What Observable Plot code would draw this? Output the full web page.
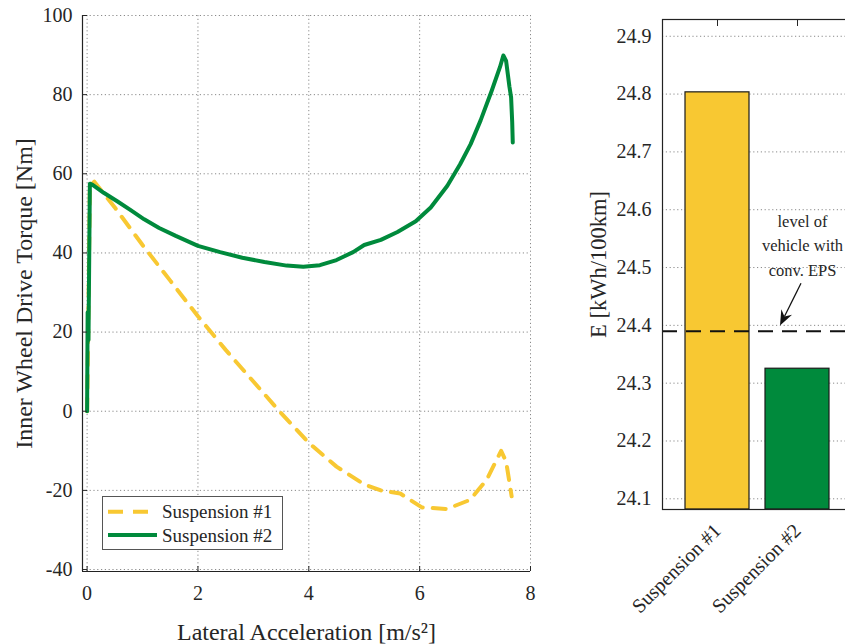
<!DOCTYPE html>
<html><head><meta charset="utf-8">
<script src="https://cdn.jsdelivr.net/npm/d3@7"></script>
<script src="https://cdn.jsdelivr.net/npm/@observablehq/plot@0.6"></script>
<style>
body{margin:0;background:#fff;}
#wrap{position:relative;width:845px;height:644px;overflow:hidden;font-family:"Liberation Serif",serif;}
#left{position:absolute;left:0;top:0;}
#right{position:absolute;left:560px;top:0;width:300px;}
#legend{position:absolute;left:102px;top:496px;}
svg{max-width:none !important;}
svg text{fill:#262626;font-family:"Liberation Serif",serif !important;}
#left g[aria-label="x-axis label"] text, #left g[aria-label="y-axis label"] text{font-size:24px;}
#right g[aria-label="y-axis label"] text{font-size:22.5px;}
</style></head>
<body><div id="wrap"><div id="left"></div><div id="right"></div><div id="legend"></div></div>
<script>
// ---- data ----
const seriesNames = ["Suspension #1", "Suspension #2"];
const seriesColors = ["#F8C832", "#008A3C"];

const accel1  = [0, 0.02, 0.05, 0.13, 0.5, 1.0, 1.5, 2.0, 2.5, 3.0, 3.47, 4.0, 4.5, 5.0, 5.3, 5.65, 6.04, 6.49, 6.91, 7.21, 7.47, 7.56, 7.66];
const torque1 = [0, 20, 57, 58, 51.5, 42, 33, 24, 15.5, 7.5, 0, -8, -14, -18.5, -20, -20.8, -24.3, -24.7, -22.4, -17.3, -10, -12.7, -21.5];

const accel2  = [0, 0.01, 0.025, 0.05, 0.1, 0.3, 0.55, 0.8, 1.03, 1.3, 1.6, 2.0, 2.4, 2.8, 3.2, 3.6, 3.9, 4.2, 4.5, 4.8, 5.0, 5.3, 5.6, 5.93, 6.2, 6.5, 6.73, 6.92, 7.1, 7.3, 7.45, 7.51, 7.56, 7.62, 7.65, 7.67, 7.68];
const torque2 = [0, 25, 18, 57.5, 57.2, 55.2, 53, 50.7, 48.5, 46.3, 44.3, 41.8, 40.2, 38.8, 37.7, 36.8, 36.5, 36.9, 38.2, 40.2, 42, 43.3, 45.3, 48, 51.5, 57, 62.4, 67.5, 73.5, 81, 87, 89.9, 88.5, 82, 79.3, 73, 67.9];

const xTicks = [0, 2, 4, 6, 8];
const yTicks = [-40, -20, 0, 20, 40, 60, 80, 100];
const xDomain = [-0.083, 8];
const yDomain = [-40.5, 100];

const energy = [24.803, 24.325];
const eTicks = [24.1, 24.2, 24.3, 24.4, 24.5, 24.6, 24.7, 24.8, 24.9];
const eDomain = [24.0815, 24.929];
const convLevel = 24.39;
const annotText = "level of\nvehicle with\nconv. EPS";
const annotY = 24.5416;
const arrowFrom = 24.472, arrowTo = 24.399;

// ---- left chart ----
const s1 = accel1.map((x, i) => ({x, y: torque1[i]}));
const s2 = accel2.map((x, i) => ({x, y: torque2[i]}));
const gridStyle = {stroke: "#8a8a8a", strokeOpacity: 1, strokeDasharray: "1.2,2.6"};
const baseStyle = {fontFamily: "'Liberation Serif', serif", fontSize: "20px", background: "transparent", color: "#262626", overflow: "visible", maxWidth: "none"};

const left = Plot.plot({
  width: 540, height: 644, marginLeft: 82, marginTop: 15, marginRight: 10, marginBottom: 73,
  style: baseStyle,
  x: {domain: xDomain}, y: {domain: yDomain},
  marks: [
    Plot.gridX(xTicks, gridStyle),
    Plot.gridY(yTicks, gridStyle),
    Plot.line(s1, {x: "x", y: "y", stroke: seriesColors[0], strokeWidth: 4, strokeDasharray: "13,10"}),
    Plot.line(s2, {x: "x", y: "y", stroke: seriesColors[1], strokeWidth: 4}),
    Plot.ruleX([xDomain[0]], {stroke: "#222", strokeWidth: 1.2}),
    Plot.ruleY([yDomain[0]], {stroke: "#222", strokeWidth: 1.2}),
    Plot.axisY(yTicks, {tickSize: -5, tickPadding: 15, tickFormat: d => String(d), label: "Inner Wheel Drive Torque [Nm]", labelAnchor: "center", labelOffset: 68, labelArrow: "none"}),
    Plot.axisX(xTicks, {tickSize: -5, tickPadding: 19, tickFormat: d => String(d), label: "Lateral Acceleration [m/s²]", labelAnchor: "center", labelOffset: 68, labelArrow: "none"})
  ]
});
document.getElementById("left").appendChild(left);

// ---- right chart ----
const bars = seriesNames.map((name, i) => ({name, value: energy[i], color: seriesColors[i]}));
const right = Plot.plot({
  width: 300, height: 644, marginLeft: 102, marginTop: 19, marginRight: 8, marginBottom: 135,
  style: baseStyle,
  x: {domain: seriesNames, paddingInner: 0.206, paddingOuter: 0.29},
  y: {domain: eDomain},
  color: {type: "identity"},
  marks: [
    Plot.gridY(eTicks, gridStyle),
    Plot.barY(bars, {x: "name", y1: () => eDomain[0], y2: "value", fill: "color", stroke: "#1a1a1a", strokeWidth: 1.2}),
    Plot.ruleY([convLevel], {stroke: "#111", strokeWidth: 2, strokeDasharray: "15,9"}),
    Plot.text([annotText], {x: () => seriesNames[1], y: () => annotY, dx: 5, text: d => d, fontSize: 16.5, lineHeight: 1.5, fill: "#1a1a1a"}),
    Plot.frame({stroke: "#222", strokeWidth: 1.2}),
    Plot.axisY(eTicks, {tickSize: 0, tickPadding: 11, tickFormat: d => d.toFixed(1), label: "E [kWh/100km]", labelAnchor: "center", labelOffset: 72, labelArrow: "none"}),
    Plot.axisX({tickSize: 0, tickRotate: -45, tickPadding: 18, label: null}),
    Plot.axisX({anchor: "top", tickSize: -6, tickFormat: () => "", label: null})
  ]
});
document.getElementById("right").appendChild(right);

// annotation arrow, positioned through the plot's scales
(function(){
  const xs = right.scale("x"), ys = right.scale("y");
  const cx = xs.apply(seriesNames[1]) + xs.bandwidth / 2;
  const x1 = cx + 4, y1 = ys.apply(arrowFrom), x2 = cx - 17, y2 = ys.apply(arrowTo);
  const dx = x2 - x1, dy = y2 - y1, L = Math.hypot(dx, dy), ux = dx / L, uy = dy / L;
  const hl = 15, hw = 6, notch = 5;
  const bx = x2 - ux * hl, by = y2 - uy * hl;
  const nx = x2 - ux * (hl - notch), ny = y2 - uy * (hl - notch);
  const g = d3.select(right).append("g");
  g.append("line").attr("x1", x1).attr("y1", y1).attr("x2", nx).attr("y2", ny).attr("stroke", "#111").attr("stroke-width", 1.3);
  g.append("path").attr("d", `M${x2},${y2}L${bx - uy * hw},${by + ux * hw}L${nx},${ny}L${bx + uy * hw},${by - ux * hw}Z`).attr("fill", "#111");
})();

// ---- legend ----
(function(){
  const svg = d3.select("#legend").append("svg").attr("width", 182).attr("height", 55).style("overflow", "visible");
  svg.append("rect").attr("x", 0.5).attr("y", 0.5).attr("width", 180).attr("height", 53).attr("fill", "#fff").attr("stroke", "#555");
  seriesNames.forEach((name, i) => {
    const y = 15.7 + i * 23.3;
    svg.append("line").attr("x1", 6).attr("x2", 55).attr("y1", y).attr("y2", y)
      .attr("stroke", seriesColors[i]).attr("stroke-width", 4)
      .attr("stroke-dasharray", i === 0 ? "15,10" : null);
    svg.append("text").attr("x", 60).attr("y", y).attr("dy", "0.35em")
      .style("font-family", "'Liberation Serif', serif").style("font-size", "19px").attr("fill", "#262626").text(name);
  });
})();
</script></body></html>
